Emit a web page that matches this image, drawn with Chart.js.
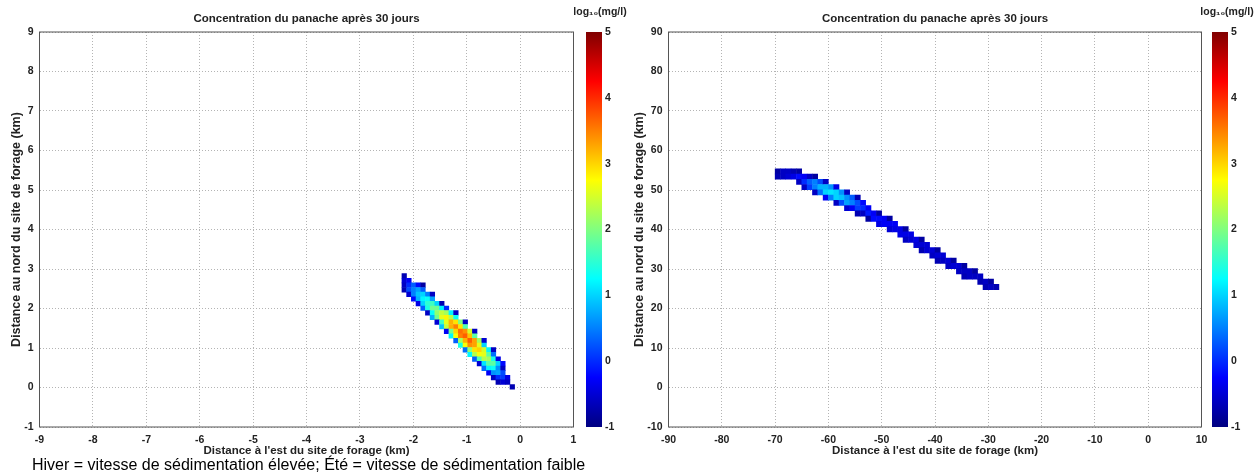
<!DOCTYPE html>
<html lang="fr">
<head>
<meta charset="UTF-8">
<title>Concentration du panache après 30 jours</title>
<script src="https://cdn.jsdelivr.net/npm/chart.js@4.4.2/dist/chart.umd.min.js"></script>
<style>
    body {
        margin: 0;
        width: 1256px;
        height: 475px;
        position: relative;
        overflow: hidden;
        background: #fff;
        font-family: "Liberation Sans", Arial, sans-serif;
    }
    canvas { position: absolute; top: 0; }
    #caption {
        position: absolute;
        left: 32px;
        top: 456px;
        font-size: 16px;
        color: #000;
        white-space: nowrap;
    }
</style>
</head>
<body>
<canvas id="plotHiver" width="580" height="470" style="left:0"></canvas>
<canvas id="plotEte" width="592" height="470" style="left:620px"></canvas>
<canvas id="barHiver" width="60" height="440" style="left:570px"></canvas>
<canvas id="barEte" width="58" height="440" style="left:1198px"></canvas>
<div id="caption">Hiver = vitesse de sédimentation élevée; Été = vitesse de sédimentation faible</div>

<script>
// --- Data ---
const titre = 'Concentration du panache après 30 jours';
const titreX = "Distance à l'est du site de forage (km)";
const titreY = 'Distance au nord du site de forage (km)';
const titreBarre = 'log₁₀(mg/l)';

// axes ranges [min, max, step]
const hiverX = [-9, 1, 1];
const hiverY = [-1, 9, 1];
const eteX = [-90, 10, 10];
const eteY = [-10, 90, 10];
const barreRange = [-1, 5, 1];

// plume grid (km): first cell centre and cell size
const hiverOrigin = [-2.17, 2.825];
const hiverStep = [0.088, 0.117];
const eteOrigin = [-69.5, 54.7];
const eteStep = [1, 1.33];

// left plume, by rows: [row, first column, log10(mg/l) values]
const hiverRows = [
    [0, 0, [-0.7]],
    [1, 0, [-0.5, -0.3]],
    [2, 0, [-0.6, 0.0, 0.3, -0.2, -0.8]],
    [3, 0, [-0.7, 0.2, 0.5, 0.7, 0.3]],
    [4, 1, [-0.5, 0.5, 0.9, 1.0, 0.5, -0.6]],
    [5, 2, [-0.2, 0.8, 1.2, 1.3, 0.7]],
    [6, 3, [-0.4, 1.0, 1.5, 1.6, 1.0, -0.7]],
    [7, 4, [0.3, 1.4, 1.9, 1.9, 1.2, 0.0]],
    [8, 5, [-0.6, 1.3, 2.1, 2.4, 2.2, 1.2, -0.6]],
    [9, 6, [0.8, 1.9, 2.6, 2.8, 2.3, 1.3]],
    [10, 7, [-0.5, 1.6, 2.6, 3.2, 2.9, 2.0, -0.6]],
    [11, 8, [0.9, 2.4, 3.2, 3.5, 2.9, 1.7]],
    [12, 9, [-0.3, 1.9, 3.0, 3.6, 3.4, 2.5, -0.6]],
    [13, 10, [1.2, 2.7, 3.5, 3.7, 3.1, 1.8]],
    [14, 11, [0.3, 2.2, 3.2, 3.7, 3.3, 2.2, -0.5]],
    [15, 12, [1.4, 2.7, 3.4, 3.3, 2.6, 1.0]],
    [16, 13, [0.4, 2.1, 2.9, 3.0, 2.5, 1.2, -0.6]],
    [17, 14, [1.2, 2.3, 2.7, 2.6, 1.8, 0.4]],
    [18, 15, [0.3, 1.7, 2.3, 2.2, 1.4, -0.4]],
    [19, 16, [-0.5, 1.1, 1.8, 1.8, 1.0, -0.2]],
    [20, 17, [0.4, 1.2, 1.3, 0.6, -0.6]],
    [21, 18, [-0.3, 0.6, 0.7, 0.2]],
    [22, 19, [-0.6, 0.0, 0.1, -0.4]],
    [23, 20, [-0.7, -0.5, -0.6]],
    [24, 23, [-0.7]]
];

// right plume, by columns: [column, first row, log10(mg/l) values]
const eteCols = [
    [0, 0, [-0.8, -0.7]],
    [1, 0, [-0.6, -0.6]],
    [2, 0, [-0.6, -0.5]],
    [3, 0, [-0.7, -0.4]],
    [4, 0, [-0.8, -0.2, -0.6]],
    [5, 1, [-0.3, 0.0, -0.6]],
    [6, 1, [-0.6, 0.3, 0.1]],
    [7, 1, [-0.8, 0.5, 0.5, -0.6]],
    [8, 2, [0.2, 0.8, 0.4]],
    [9, 2, [-0.6, 0.8, 1.0, -0.3]],
    [10, 3, [0.6, 1.1, 0.5]],
    [11, 3, [-0.4, 1.0, 1.0, -0.6]],
    [12, 4, [0.6, 0.9, 0.2]],
    [13, 4, [-0.6, 0.6, 0.7, -0.5]],
    [14, 5, [0.3, 0.5, -0.3]],
    [15, 5, [-0.7, 0.2, 0.1, -0.7]],
    [16, 6, [-0.2, 0.0, -0.6]],
    [17, 7, [-0.3, -0.1, -0.8]],
    [18, 8, [-0.3, -0.2]],
    [19, 8, [-0.8, -0.2, -0.4]],
    [20, 9, [-0.3, -0.3]],
    [21, 9, [-0.8, -0.3, -0.5]],
    [22, 10, [-0.3, -0.4]],
    [23, 11, [-0.4, -0.4]],
    [24, 11, [-0.8, -0.4, -0.6]],
    [25, 12, [-0.4, -0.5]],
    [26, 13, [-0.4, -0.5]],
    [27, 13, [-0.8, -0.5, -0.7]],
    [28, 14, [-0.5, -0.5]],
    [29, 15, [-0.5, -0.6]],
    [30, 15, [-0.8, -0.5, -0.7]],
    [31, 16, [-0.5, -0.6]],
    [32, 17, [-0.5, -0.6]],
    [33, 17, [-0.8, -0.5]],
    [34, 18, [-0.5, -0.6]],
    [35, 18, [-0.8, -0.6, -0.7]],
    [36, 19, [-0.6, -0.6]],
    [37, 19, [-0.8, -0.6]],
    [38, 20, [-0.6, -0.7]],
    [39, 21, [-0.6, -0.7]],
    [40, 21, [-0.8, -0.6]],
    [41, 22, [-0.7]]
];

// --- Helpers ---
Chart.defaults.font.family = '"Liberation Sans", Arial, sans-serif';
Chart.defaults.color = '#222';

// jet colormap over the colour bar range
function jet(v) {
    const t = Math.min(1, Math.max(0, (v - barreRange[0]) / (barreRange[1] - barreRange[0])));
    const c = k => Math.round(255 * Math.min(1, Math.max(0, 1.5 - Math.abs(4 * t - k))));
    return `rgb(${c(3)},${c(2)},${c(1)})`;
}

function rowCells(rows, origin, step) {
    const pts = [];
    rows.forEach(([r, c0, vals]) => vals.forEach((v, i) => {
        if (v === null) return;
        pts.push({ x: origin[0] + (c0 + i) * step[0], y: origin[1] - r * step[1], v: v });
    }));
    return pts;
}

function colCells(cols, origin, step) {
    const pts = [];
    cols.forEach(([c, r0, vals]) => vals.forEach((v, i) => {
        if (v === null) return;
        pts.push({ x: origin[0] + c * step[0], y: origin[1] - (r0 + i) * step[1], v: v });
    }));
    return pts;
}

// square cell size in pixels, taken from the chart scales
function cellRadius(step) {
    return ctx => {
        const s = ctx.chart.scales;
        const w = Math.abs(s.x.getPixelForValue(step[0]) - s.x.getPixelForValue(0));
        const h = Math.abs(s.y.getPixelForValue(step[1]) - s.y.getPixelForValue(0));
        return (Math.max(w, h) + 0.5) / Math.SQRT2;
    };
}

// MATLAB-like box round the plot area
const cadre = {
    id: 'cadre',
    afterDraw(chart) {
        const a = chart.chartArea;
        const ctx = chart.ctx;
        ctx.save();
        ctx.strokeStyle = '#555';
        ctx.lineWidth = 1;
        ctx.strokeRect(a.left, a.top, a.right - a.left, a.bottom - a.top);
        ctx.restore();
    }
};

const tickFont = { size: 10.5, weight: 'bold' };

function drawPlot(id, cells, step, xr, yr, yWidth, yTitlePad, padRight) {
    new Chart(document.getElementById(id), {
        type: 'scatter',
        data: {
            datasets: [{
                data: cells,
                pointStyle: 'rect',
                pointRadius: cellRadius(step),
                pointHoverRadius: cellRadius(step),
                borderWidth: 0,
                backgroundColor: ctx => jet(ctx.raw ? ctx.raw.v : 0)
            }]
        },
        options: {
            responsive: false,
            animation: false,
            events: [],
            layout: { padding: { left: 0, right: padRight, top: 0, bottom: 12 } },
            plugins: {
                legend: { display: false },
                tooltip: { enabled: false },
                title: {
                    display: true,
                    fullSize: false,
                    text: titre,
                    font: { size: 11.5, weight: 'bold' },
                    color: '#222',
                    padding: { top: 12, bottom: 6.2 }
                }
            },
            scales: {
                x: {
                    type: 'linear',
                    min: xr[0], max: xr[1],
                    ticks: { stepSize: xr[2], font: tickFont, padding: 7, maxRotation: 0 },
                    grid: { color: '#b4b4b4', drawTicks: false },
                    border: { display: false, dash: [1, 2] },
                    title: { display: true, text: titreX, font: { size: 11.5, weight: 'bold' }, padding: { top: 0, bottom: 0 } },
                    afterFit: s => { s.height = 31; s.paddingLeft = 0; s.paddingRight = 0; }
                },
                y: {
                    type: 'linear',
                    min: yr[0], max: yr[1],
                    ticks: { stepSize: yr[2], font: tickFont, padding: 6 },
                    grid: { color: '#b4b4b4', drawTicks: false },
                    border: { display: false, dash: [1, 2] },
                    title: { display: true, text: titreY, font: { size: 12.5, weight: 'bold' }, padding: { top: yTitlePad, bottom: 0 } },
                    afterFit: s => { s.width = yWidth; s.paddingTop = 0; s.paddingBottom = 0; }
                }
            }
        },
        plugins: [cadre]
    });
}

function drawBar(id, padLeft) {
    new Chart(document.getElementById(id), {
        type: 'bar',
        data: {
            labels: [''],
            datasets: [{
                data: [[barreRange[0], barreRange[1]]],
                borderWidth: 0,
                barPercentage: 1,
                categoryPercentage: 1,
                backgroundColor: ctx => {
                    const a = ctx.chart.chartArea;
                    if (!a) return '#00f';
                    const g = ctx.chart.ctx.createLinearGradient(0, a.bottom, 0, a.top);
                    for (let i = 0; i <= 24; i++) {
                        g.addColorStop(i / 24, jet(barreRange[0] + (barreRange[1] - barreRange[0]) * i / 24));
                    }
                    return g;
                }
            }]
        },
        options: {
            responsive: false,
            animation: false,
            events: [],
            layout: { padding: { left: 0, right: 0, top: 0, bottom: 13 } },
            plugins: {
                legend: { display: false },
                tooltip: { enabled: false },
                title: {
                    display: true,
                    text: titreBarre,
                    font: { size: 10.5, weight: 'bold' },
                    color: '#222',
                    padding: { top: 5.7, bottom: 13.7 }
                }
            },
            scales: {
                x: { display: false },
                // empty left axis: keeps the bar clear of the canvas edge
                marge: {
                    type: 'linear',
                    position: 'left',
                    ticks: { display: false },
                    grid: { display: false },
                    border: { display: false },
                    afterFit: s => { s.width = padLeft; s.paddingTop = 0; s.paddingBottom = 0; }
                },
                y: {
                    position: 'right',
                    min: barreRange[0], max: barreRange[1],
                    ticks: { stepSize: barreRange[2], font: { size: 10.5, weight: 'bold' }, padding: 3 },
                    grid: { display: false, drawTicks: false },
                    border: { display: false },
                    afterFit: s => { s.width = 28; s.paddingTop = 0; s.paddingBottom = 0; }
                }
            }
        }
    });
}

drawPlot('plotHiver', rowCells(hiverRows, hiverOrigin, hiverStep), hiverStep, hiverX, hiverY, 39.5, 9.5, 6.5);
drawPlot('plotEte', colCells(eteCols, eteOrigin, eteStep), eteStep, eteX, eteY, 48.5, 12.5, 10.5);
drawBar('barHiver', 16);
drawBar('barEte', 14);
</script>
</body>
</html>
